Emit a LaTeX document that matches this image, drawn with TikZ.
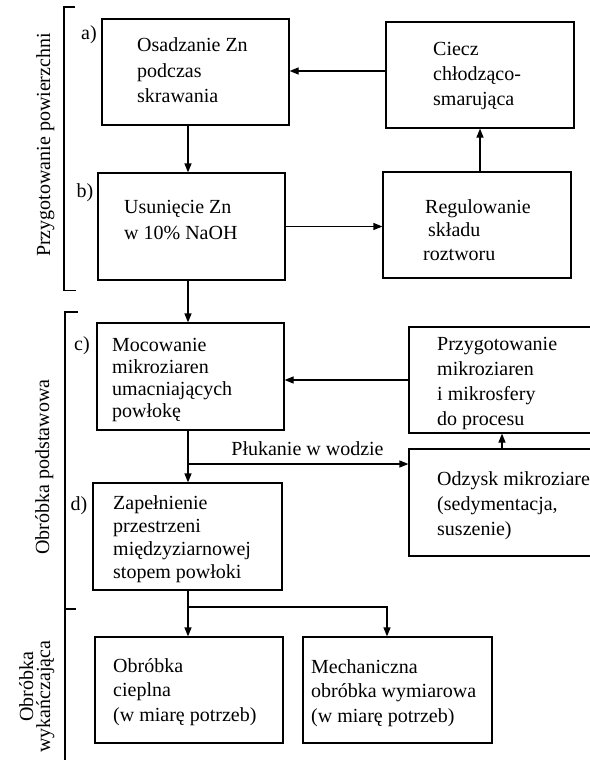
\documentclass[tikz,border=0pt]{standalone}
\usepackage{fontspec}
\setmainfont{Liberation Serif}
\usetikzlibrary{arrows.meta}
\begin{document}
\begin{tikzpicture}[x=1bp,y=-1bp,
  box/.style={draw,line width=1.2bp,inner sep=0pt},
  txt/.style={inner sep=0pt,align=left,anchor=base west,font=\fontsize{20bp}{#1}\selectfont},
  txt/.default=25bp,
  lbl/.style={inner sep=0pt,anchor=base,font=\fontsize{20bp}{25bp}\selectfont},
  side/.style={inner sep=0pt,anchor=base,rotate=90,font=\fontsize{20bp}{25bp}\selectfont},
  ln/.style={line width=1.2bp},
  arr/.style={line width=1.2bp,-{Triangle[length=9bp,width=7bp]}}]
\useasboundingbox (0,0) rectangle (590,760);
\clip (0,0) rectangle (590,760);
\fill[white] (0,0) rectangle (590,760);

% boxes
\node[box,minimum width=187bp,minimum height=106bp] (a) at (195.5,72) {};
\node[box,minimum width=187bp,minimum height=107bp] (b) at (191.5,226.5) {};
\node[box,minimum width=188bp,minimum height=106bp] (ciecz) at (480,75) {};
\node[box,minimum width=188bp,minimum height=106bp] (reg) at (477,225) {};
\node[box,minimum width=187bp,minimum height=107bp] (c) at (190.5,376.5) {};
\node[box,minimum width=186bp,minimum height=106bp] (przyg) at (502,380) {};
\node[box,minimum width=186bp,minimum height=107bp] (odz) at (502,502.5) {};
\node[box,minimum width=189bp,minimum height=107bp] (d) at (187.5,536.5) {};
\node[box,minimum width=188bp,minimum height=106bp] (cieplna) at (189,690) {};
\node[box,minimum width=189bp,minimum height=106bp] (mech) at (397.5,690) {};

% texts (anchor = baseline of the last line)
\node[txt] (ta) at (137,102) {Osadzanie Zn\\podczas\\skrawania};
\node[txt=26bp] (tb) at (124,239) {Usunięcie Zn\\w 10\% NaOH};
\node[txt=24.5bp] (tciecz) at (433,105) {Ciecz\\chłodząco-\\smarująca};
\node[txt=23.5bp] (treg) at (423,260) {\hspace*{2bp}Regulowanie\\\hspace*{5bp}składu\\roztworu};
\node[txt=21.7bp] (tc) at (112,417) {Mocowanie\\mikroziaren\\umacniających\\powłokę};
\node[txt] (tprzyg) at (437,425) {Przygotowanie\\mikroziaren\\i mikrosfery\\do procesu};
\node[txt] (todz) at (437,535) {Odzysk mikroziaren\\(sedymentacja,\\suszenie)};
\node[txt=22.7bp] (td) at (113,578) {Zapełnienie\\przestrzeni\\międzyziarnowej\\stopem powłoki};
\node[txt=24.5bp] (tcieplna) at (113,721) {Obróbka\\cieplna\\(w miarę potrzeb)};
\node[txt=24.5bp] (tmech) at (311,722) {Mechaniczna\\obróbka wymiarowa\\(w miarę potrzeb)};

% step labels
\node[lbl] (la) at (89,40) {a)};
\node[lbl] (lb) at (85,197) {b)};
\node[lbl] (lc) at (82,350) {c)};
\node[lbl] (ld) at (79,510) {d)};

% side labels
\node[side] (s1) at (50,145) {Przygotowanie powierzchni};
\node[side] (s2) at (49,467) {Obróbka podstawowa};
\node[side] (s3a) at (33,686.5) {Obróbka};
\node[side] (s3b) at (50,696.5) {wykańczająca};

% brackets
\draw[ln] (75,7) -- (64,7) -- (64,290.5) -- (76,290.5);
\draw[ln] (78,312) -- (65,312) -- (65,765);
\draw[ln] (65,609) -- (76,609);

% connectors
\coordinate (colx) at (188,0);
\coordinate (pluk) at (188,464);
\coordinate (split) at (188,607);
\draw[arr] (a.south -| colx) -- (b.north -| colx);
\draw[arr] ([yshift=4bp]ciecz.west) -- ([yshift=4bp]ciecz.west -| a.east);
\draw[arr] (b.east) -- (b.east -| reg.west);
\draw[arr] (ciecz.south |- reg.north) -- (ciecz.south);
\draw[arr] (b.south -| colx) -- (c.north -| colx);
\draw[arr] (przyg.west) -- (przyg.west -| c.east);
\draw[arr] (odz.north) -- (przyg.south);
\draw[arr] (c.south -| colx) -- (d.north -| colx);
\draw[arr] (pluk) -- (pluk -| odz.west);
\node[lbl] (tpluk) at (307.5,455) {Płukanie w wodzie};
\draw[ln] (d.south -| colx) -- (split);
\draw[arr] (split) -- (cieplna.north -| split);
\draw[arr] (split) -| ([xshift=-10.5bp]mech.north);
\end{tikzpicture}
\end{document}
